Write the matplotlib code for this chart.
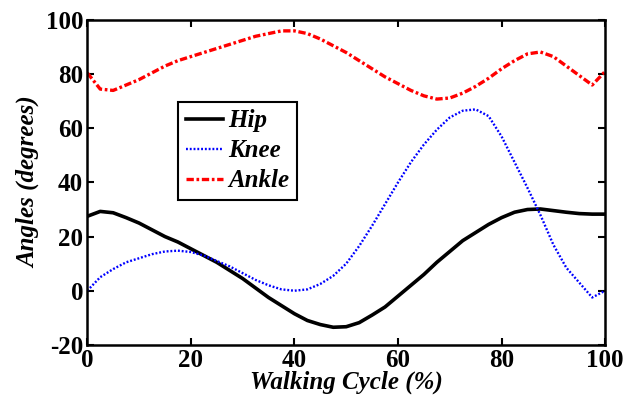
import numpy as np
import matplotlib
matplotlib.use('Agg')
from matplotlib import pyplot as plt

plt.rcParams['font.family'] = ['Liberation Serif']
plt.rcParams['font.weight'] = 'bold'
plt.rcParams['axes.unicode_minus'] = False

# gait cycle (%) and joint angles (degrees)
cycle = [0, 2.5, 5, 7.5, 10, 12.5, 15, 17.5, 20, 22.5, 25, 27.5, 30, 32.5, 35, 37.5,
         40, 42.5, 45, 47.5, 50, 52.5, 55, 57.5, 60, 62.5, 65, 67.5, 70, 72.5, 75,
         77.5, 80, 82.5, 85, 87.5, 90, 92.5, 95, 97.5, 100]

hip = [27.5, 29.3, 28.8, 27.0, 25.0, 22.5, 20.0, 18.0, 15.5, 13.0, 10.5, 7.5, 4.5,
       1.0, -2.5, -5.5, -8.5, -11.0, -12.5, -13.5, -13.3, -11.8, -9.0, -6.0, -2.0,
       2.0, 6.0, 10.5, 14.5, 18.5, 21.5, 24.5, 27.0, 29.0, 30.0, 30.2, 29.6, 29.0,
       28.5, 28.3, 28.3]

knee = [0.0, 5.0, 8.0, 10.5, 12.0, 13.5, 14.5, 14.8, 14.3, 13.0, 11.0, 9.0, 6.5,
        4.0, 2.0, 0.5, 0.0, 0.5, 2.5, 5.5, 10.0, 16.5, 24.0, 32.0, 40.0, 47.5, 54.0,
        59.5, 64.0, 66.5, 67.0, 64.5, 57.0, 47.5, 38.0, 28.0, 17.0, 8.5, 3.0, -2.5,
        0.0]

ankle = [80.5, 74.5, 74.0, 76.0, 78.0, 80.5, 83.0, 85.0, 86.5, 88.0, 89.5, 91.0,
         92.5, 94.0, 95.0, 96.0, 96.0, 95.0, 93.0, 90.5, 88.0, 85.0, 82.0, 79.0,
         76.5, 74.0, 72.0, 70.8, 71.2, 73.0, 75.5, 78.5, 82.0, 85.0, 87.5, 88.2,
         86.5, 83.0, 79.5, 76.0, 81.0]

fig = plt.figure(figsize=(6.37, 4.01), dpi=100)
ax = fig.add_axes([0.137, 0.14, 0.813, 0.81])

ax.plot(cycle, hip, color='black', linewidth=2.6, label='Hip')
ax.plot(cycle, knee, color='blue', linewidth=1.7, linestyle=(0, (0.8, 0.8)), label='Knee')
ax.plot(cycle, ankle, color='red', linewidth=2.4, linestyle=(0, (2.2, 0.8, 0.8, 0.8)), label='Ankle')

ax.set_xlim(0, 100)
ax.set_ylim(-20, 100)
ax.set_xticks([0, 20, 40, 60, 80, 100])
ax.set_yticks([-20, 0, 20, 40, 60, 80, 100])
ax.tick_params(direction='in', length=5, width=1.5, labelsize=18, top=True, right=True, pad=3)
for lbl in ax.get_xticklabels() + ax.get_yticklabels():
    lbl.set_fontweight('bold')
for s in ax.spines.values():
    s.set_linewidth(1.8)

ax.set_xlabel('Walking Cycle (%)', fontsize=18, fontweight='bold', style='italic', labelpad=-1)
ax.set_ylabel('Angles (degrees)', fontsize=18, fontweight='bold', style='italic', labelpad=4)

leg = ax.legend(loc='upper left', bbox_to_anchor=(0.176, 0.748), fancybox=False,
                edgecolor='black', framealpha=1, handlelength=1.5, borderpad=0.3,
                labelspacing=0.28, handletextpad=0.2, borderaxespad=0,
                prop={'size': 18, 'weight': 'bold', 'style': 'italic'})
leg.get_frame().set_linewidth(1.5)

fig.savefig('out.png', dpi=100)
